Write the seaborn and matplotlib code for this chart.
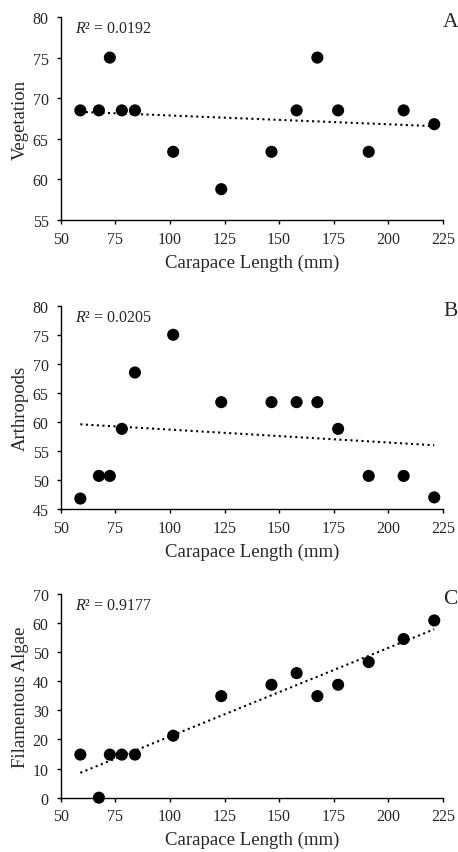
import numpy as np
import pandas as pd
import matplotlib
matplotlib.use('Agg')
import matplotlib.pyplot as plt
import seaborn as sns

# carapace length (mm) of each turtle
carapace = [59, 67.5, 72.5, 78, 84, 101.5, 123.5, 146.5, 158, 167.5, 177, 191, 207, 221]

# diet components (% occurrence) per individual
vegetation = [68.5, 68.5, 75, 68.5, 68.5, 63.4, 58.8, 63.4, 68.5, 75, 68.5, 63.4, 68.5, 66.8]
arthropods = [46.8, 50.7, 50.7, 58.8, 68.5, 75, 63.4, 63.4, 63.4, 63.4, 58.8, 50.7, 50.7, 47.0]
algae = [14.8, 0, 14.8, 14.8, 14.8, 21.3, 34.9, 38.8, 42.8, 34.9, 38.8, 46.6, 54.5, 60.9]

panel_names = ['Vegetation', 'Arthropods', 'Filamentous Algae']
panel_letters = ['A', 'B', 'C']
r2_labels = ['0.0192', '0.0205', '0.9177']
y_limits = [(55, 80), (45, 80), (0, 70)]
y_steps = [5, 5, 10]
x_ticks = [50, 75, 100, 125, 150, 175, 200, 225]

df = pd.DataFrame({'Carapace': carapace, 'Vegetation': vegetation,
                   'Arthropods': arthropods, 'Filamentous Algae': algae})

sns.set_style('ticks')
plt.rcParams['font.family'] = ['Liberation Serif', 'DejaVu Serif']
plt.rcParams['mathtext.fontset'] = 'custom'
plt.rcParams['mathtext.rm'] = 'Liberation Serif'
plt.rcParams['mathtext.it'] = 'Liberation Serif:italic'

fig = plt.figure(figsize=(4.58, 8.53), dpi=100)

boxes = [(0.1325, 0.7409, 0.8347, 0.2380),
         (0.1325, 0.4021, 0.8347, 0.2383),
         (0.1325, 0.0637, 0.8347, 0.2388)]

for i, col in enumerate(panel_names):
    ax = fig.add_axes(boxes[i])
    sns.regplot(data=df, x='Carapace', y=col, ax=ax, ci=None,
                scatter_kws={'s': 76, 'color': 'black', 'edgecolor': 'none',
                             'alpha': 1, 'clip_on': False, 'zorder': 3},
                line_kws={'color': 'black', 'ls': ':', 'lw': 1.5})
    ax.set_xlim(50, 225)
    ax.set_ylim(*y_limits[i])
    ax.set_xticks(x_ticks)
    lo, hi = y_limits[i]
    ax.set_yticks(np.arange(lo, hi + 1, y_steps[i]))
    ax.tick_params(axis='both', direction='out', length=3.1, width=1,
                   labelsize=11.5, color='black')
    ax.tick_params(axis='x', pad=4.5)
    ax.tick_params(axis='y', pad=5.5)
    for s in ['left', 'bottom']:
        ax.spines[s].set_color('black')
        ax.spines[s].set_linewidth(1)
    sns.despine(ax=ax)
    ax.set_xlabel('Carapace Length (mm)', fontsize=13.5, labelpad=5)
    ax.set_ylabel(col, fontsize=13.5, labelpad=3)
    ax.text(0.037, 0.945, r'$R$² = ' + r2_labels[i], transform=ax.transAxes,
            fontsize=11.5, va='center', ha='left')
    ax.text(1.0, 1 - 5 / 203, panel_letters[i], transform=ax.transAxes,
            fontsize=15.5, va='center', ha='left', clip_on=False)

fig.savefig('out.png', dpi=100)
